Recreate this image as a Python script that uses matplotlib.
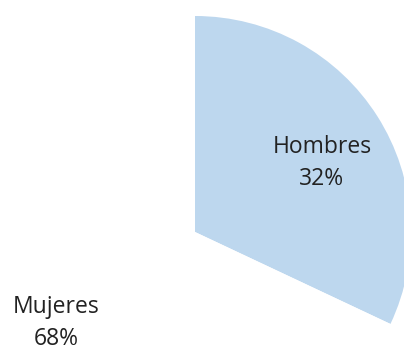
import matplotlib.pyplot as plt

labels = ["Hombres", "Mujeres"]
values = [32, 68]
colors = ["#BDD7EE", "#FFFFFF"]

# label anchor points in pixel units (x right, y up)
label_xy = [(322, 190), (56, 30)]

fig = plt.figure(figsize=(4.04, 3.53), dpi=100)
ax = fig.add_axes([0, 0, 1, 1])

# pie is larger than the canvas, so it is placed in pixel units and cropped
cx, cy, r = 195, 121, 216
wedges, _ = ax.pie(values, colors=colors, startangle=90, counterclock=False,
                   center=(cx, cy), radius=r, frame=True)

for (x, y), name, v in zip(label_xy, labels, values):
    ax.text(x, y, f"{name}\n{v}%", ha="center", va="center",
            fontsize=16.5, color="#222222", family="Open Sans",
            linespacing=1.45)

ax.set_xlim(0, 404)
ax.set_ylim(0, 353)
ax.set_aspect("equal")
ax.axis("off")

plt.savefig("out.png", dpi=100)
